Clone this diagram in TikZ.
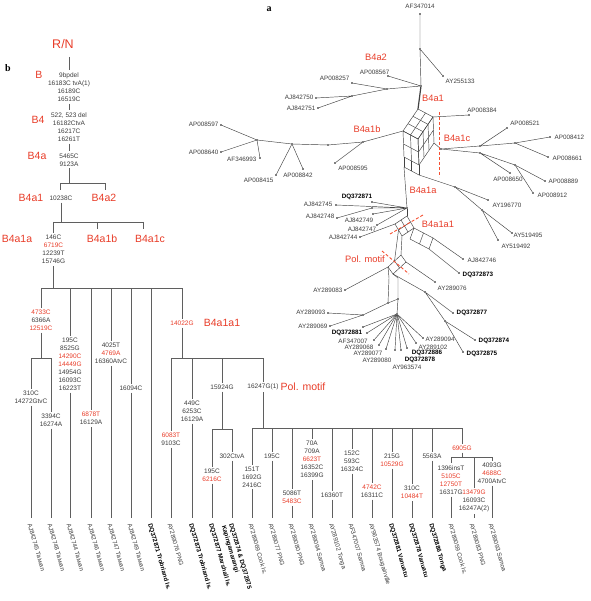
\documentclass[tikz,border=0pt]{standalone}
\usepackage{fontspec}
\setmainfont{Liberation Sans}
\newfontfamily\serifbf{Liberation Serif}
\usetikzlibrary{calc}
\definecolor{myred}{RGB}{232,60,40}
\definecolor{dashred}{RGB}{245,80,50}
\definecolor{txt}{RGB}{60,60,60}
\definecolor{ln}{RGB}{95,95,95}
\definecolor{nln}{RGB}{65,65,65}
\newcommand\redt[1]{\textcolor{myred}{#1}}
\tikzset{
 tl/.style={draw=ln, line width=0.6pt},
 mut/.style={font=\fontsize{6.5}{8}\selectfont, text=txt, align=center, inner sep=2pt},
 lab/.style={font=\fontsize{10.5}{12}\selectfont, text=myred, inner sep=0pt},
 leaf/.style={font=\fontsize{6.2}{7}\selectfont, text=txt, rotate=-74, anchor=west, inner sep=0.5pt},
 bleaf/.style={leaf, font=\fontsize{6.2}{7}\selectfont\bfseries, text=black},
 nl/.style={draw=nln, line width=0.45pt},
 nlab/.style={font=\fontsize{6.3}{7}\selectfont, text=txt, inner sep=0.5pt},
 nbold/.style={nlab, font=\fontsize{6.3}{7}\selectfont\bfseries, text=black},
 rlab/.style={font=\fontsize{9.3}{11}\selectfont, text=myred, inner sep=0pt},
 rdash/.style={draw=dashred, line width=0.9pt, dash pattern=on 3pt off 2pt},
 ndot/.style={circle, fill=black, inner sep=0pt, minimum size=1.8pt},
 panel/.style={font={\serifbf\bfseries\fontsize{10}{12}\selectfont}, inner sep=0pt},
}
\newcommand\tbr[6]{\node[mut] (#1) at (#2,#5) {#6}; \draw[tl] (#2,#3) -- (#1.north); \draw[tl] (#1.south) -- (#2,#4);}
\begin{document}
\begin{tikzpicture}[x=1pt,y=-1pt]
\useasboundingbox (0,0) rectangle (590,601);

%%%%%%%%%%%%%%%% panel b : tree %%%%%%%%%%%%%%%%
\node[panel] (pb) at (8,68) {b};
\node[lab, font=\fontsize{12.5}{14}\selectfont] (rn) at (63,44) {R/N};
\coordinate (r0) at (69,57);
\node[mut] (m0) at (69,87) {9bpdel\\16183C tvA(1)\\16189C\\16519C};
\node[lab] (lB) at (39,75) {B};
\draw[tl] (r0) -- (m0.north);
\node[mut] (m1) at (69,127) {522, 523 del\\16182CtvA\\16217C\\16261T};
\node[lab] (lB4) at (38,120) {B4};
\draw[tl] (m0.south) -- (m1.north);
\node[mut] (m2) at (69,160) {5465C\\9123A};
\node[lab] (lB4a) at (37,156) {B4a};
\draw[tl] (m1.south) -- (m2.north);
\coordinate (j1) at (69,183);
\draw[tl] (m2.south) -- (j1);
\draw[tl] (60,190) -- (60,183) -- (105,183) -- (105,190);
\node[mut] (m3) at (61,198) {10238C};
\node[lab] (lB4a1) at (31,198) {B4a1};
\node[lab] (lB4a2) at (104,198) {B4a2};
\coordinate (j2) at (61,222);
\draw[tl] (m3.south) -- (j2);
\draw[tl] (53,222) -- (143,222);
\draw[tl] (97,222) -- (97,229);
\draw[tl] (143,222) -- (143,229);
\node[lab] (lB4a1a) at (17,239) {B4a1a};
\node[lab] (lB4a1b) at (102,239) {B4a1b};
\node[lab] (lB4a1c) at (150,239) {B4a1c};
\node[mut] (m4) at (53.5,249.5) {146C\\\redt{6719C}\\12239T\\15746G};
\draw[tl] (53.5,222) -- (m4.north);
\draw[tl] (m4.south) -- (53.5,288);
\draw[tl] (41,288) -- (182,288);

\tbr{m5}{41}{288}{358}{320}{\redt{4733C}\\6366A\\\redt{12519C}}
\draw[tl] (31,358) -- (51,358);
\tbr{m6}{31}{358}{518}{397.5}{310C\\14272GtvC}
\tbr{m7}{51}{358}{518}{420}{3394C\\16274A}
\tbr{m8}{70}{288}{518}{364}{195C\\8525G\\\redt{14290C}\\\redt{14449G}\\14954G\\16093C\\16223T}
\tbr{m9}{91}{288}{518}{418.5}{\redt{6878T}\\16129A}
\tbr{m10}{111}{288}{518}{353.5}{4025T\\\redt{4769A}\\16360AtvC}
\tbr{m11}{131}{288}{518}{388}{16094C}
\draw[tl] (151,288) -- (151,518);
\tbr{m12}{182}{288}{358}{323}{\redt{14022G}}
\node[lab] (lB4a1a1) at (222,323) {B4a1a1};
\draw[tl] (171,358) -- (263,358);
\tbr{m13}{171}{358}{518}{439}{\redt{6083T}\\9103C}
\tbr{m14}{192}{358}{518}{411}{449C\\6253C\\16129A}
\tbr{m15}{222}{358}{429}{387}{15924G}
\draw[tl] (212,429) -- (232,429);
\tbr{m16}{212}{429}{518}{475}{195C\\\redt{6216C}}
\tbr{m17}{232}{429}{518}{456}{302CtvA}
\tbr{m18}{263}{358}{428}{387}{16247G(1)}
\node[lab] (lpol) at (303,387) {Pol. motif};
\draw[tl] (252,428) -- (462,428);
\tbr{m19}{252}{428}{518}{477}{151T\\1692G\\2416C}
\tbr{m20}{272}{428}{518}{456}{195C}
\tbr{m21}{292}{428}{518}{497.5}{5086T\\\redt{5483C}}
\tbr{m22}{312}{428}{518}{459.5}{70A\\709A\\\redt{6623T}\\16352C\\16399G}
\tbr{m23}{332}{428}{518}{495}{16360T}
\tbr{m24}{352}{428}{518}{461}{152C\\593C\\16324C}
\tbr{m25}{372}{428}{518}{491}{\redt{4742C}\\16311C}
\tbr{m26}{392}{428}{518}{460}{215G\\\redt{10529G}}
\tbr{m27}{412}{428}{518}{492.5}{310C\\\redt{10484T}}
\tbr{m28}{432}{428}{518}{456}{5563A}
\tbr{m29}{462}{428}{457}{448}{\redt{6905G}}
\draw[tl] (451,457) -- (492,457);
\tbr{m30}{451}{457}{518}{480}{1396insT\\\redt{5105C}\\\redt{12750T}\\16317G}
\tbr{m31}{474}{457}{518}{501}{\redt{13479G}\\16093C\\16247A(2)}
\tbr{m32}{492}{457}{518}{473}{4093G\\\redt{4688C}\\4700AtvC}

% leaf labels
\node[leaf] (t1) at (29.5,523) {AJ842745 Taiwan};
\node[leaf] (t2) at (49.5,523) {AJ842748 Taiwan};
\node[leaf] (t3) at (68.5,523) {AJ842744 Taiwan};
\node[leaf] (t4) at (89.5,523) {AJ842746 Taiwan};
\node[leaf] (t5) at (109.5,523) {AJ842747 Taiwan};
\node[leaf] (t6) at (129.5,523) {AJ842749 Taiwan};
\node[bleaf] (t7) at (149.5,523) {DQ372871 Trobriand Is.};
\node[leaf] (t8) at (169.5,523) {AY289076 PNG};
\node[bleaf] (t9) at (190.5,523) {DQ372873 Trobriand Is.};
\node[bleaf] (t10) at (210.5,523) {DQ372877 Marshall Is.};
\node[bleaf] (t11) at (230.5,523) {DQ372874 \& DQ372875};
\node[bleaf] (t11b) at (223.3,525.1) {Kapingamarangi};
\node[leaf] (t12) at (250.5,523) {AY289069 Cook Is.};
\node[leaf] (t13) at (270.5,523) {AY289077 PNG};
\node[leaf] (t14) at (290.5,523) {AY289080 PNG};
\node[leaf] (t15) at (310.5,523) {AY289094 Samoa};
\node[leaf] (t16) at (330.5,523) {AY289102 Tonga};
\node[leaf] (t17) at (350.5,523) {AF347007 Samoa};
\node[leaf] (t18) at (370.5,523) {AY963574 Bougainville};
\node[bleaf] (t19) at (390.5,523) {DQ372881 Vanuatu};
\node[bleaf] (t20) at (410.5,523) {DQ372878 Vanuatu};
\node[bleaf] (t21) at (430.5,523) {DQ372886 Tonga};
\node[leaf] (t22) at (450.5,523) {AY289059 Cook Is.};
\node[leaf] (t23) at (471.5,523) {AY289083 PNG};
\node[leaf] (t24) at (490.5,523) {AY289093 Samoa};

%%%%%%%%%%%%%%%% panel a : network %%%%%%%%%%%%%%%%
\node[panel] (pa) at (269,9) {a};
\node[ndot] (n1) at (420,14) {};
\node[nlab] (ln1) at (420,6) {AF347014};
\node[ndot] (n2) at (420,49) {};
\node[ndot] (n3) at (443,76) {};
\node[nlab, anchor=west] (ln3) at (445,81) {AY255133};
\node[ndot] (n4) at (421,86) {};
\node[ndot] (n5) at (388,76) {};
\node[nlab, anchor=east] (ln5) at (390,72) {AP008567};
\node[ndot] (n6) at (352,83) {};
\node[nlab, anchor=east] (ln6) at (350,78) {AP008257};
\node[ndot] (n7) at (387,89) {};
\node[ndot] (n8) at (352,96) {};
\node[ndot] (n9) at (316,98) {};
\node[nlab, anchor=east] (ln9) at (314,97) {AJ842750};
\node[ndot] (n10) at (318,108) {};
\node[nlab, anchor=east] (ln10) at (316,108) {AJ842751};
\draw[nl] (n1)--(n2) (n2)--(n3) (n2)--(n4) (n4)--(n5) (n4)--(n7) (n6)--(n7) (n7)--(n8) (n8)--(n9) (n8)--(n10);
\node[rlab] (la1) at (376,57) {B4a2};
\node[rlab] (la2) at (433,98) {B4a1};

% web 1
\coordinate (T) at (418,109);
\coordinate (TA) at (403,131);
\coordinate (TB) at (433,117);
\coordinate (TBC) at (434,143);
\coordinate (TAC) at (404,157);
\coordinate (SBL) at (404,167);
\coordinate (SBR) at (419,175);
\draw[nl, line width=1.2pt] (n4) -- (T);
\foreach \i in {0,1,2,3} {\draw[nl] ($(T)+({-5*\i},{7.3333*\i})$) -- ++(15,8);}
\foreach \j in {0,1,2} {\draw[nl] ($(T)+({7.5*\j},{4*\j})$) -- ++(-15,22);}
\foreach \i in {0,1,2,3} {\draw[nl] ($(TB)+({-5*\i},{7.3333*\i})$) -- ++(1,26);}
\foreach \k in {0,1,2} {\draw[nl] ($(TB)+({0.5*\k},{13*\k})$) -- ++(-15,22);}
\foreach \j in {0,1,2} {\draw[nl] ($(TA)+({7.5*\j},{4*\j})$) -- ++(1,26);}
\foreach \k in {0,1,2} {\draw[nl] ($(TA)+({0.5*\k},{13*\k})$) -- ++(15,8);}
\foreach \j in {0,1,2} {\draw[nl] ($(TAC)+({7.5*\j},{4*\j})$) -- ++(0,10);}
\draw[nl] (SBL) -- (SBR);

% B4a1b branch
\node[rlab] (la3) at (367,129) {B4a1b};
\node[ndot] (b0) at (257,140) {};
\node[ndot] (b1) at (292,144) {};
\node[ndot] (b2) at (328,145) {};
\node[ndot] (b3) at (363,142) {};
\node[ndot] (ap597) at (221,125) {};
\node[nlab, anchor=east] (lap597) at (219,124) {AP008597};
\node[ndot] (ap640) at (221,152) {};
\node[nlab, anchor=east] (lap640) at (219,152) {AP008640};
\node[ndot] (af993) at (260,158) {};
\node[nlab, anchor=east] (laf993) at (257,159) {AF346993};
\node[ndot] (ap415) at (276,175) {};
\node[nlab, anchor=east] (lap415) at (274,180) {AP008415};
\node[ndot] (ap842) at (303,169) {};
\node[nlab] (lap842) at (298,175) {AP008842};
\node[ndot] (ap595) at (335,163) {};
\node[nlab] (lap595) at (353,168) {AP008595};
\draw[nl] (ap597)--(b0) (ap640)--(b0) (af993)--(b0) (b0)--(b1) (b1)--(b2) (b2)--(b3) (b3)--(TA)
 (b1)--(ap415) (b1)--(ap842) (b3)--(ap595);

% AP008384
\node[ndot] (ap384) at (469,115) {};
\node[nlab] (lap384) at (482,110) {AP008384};
\draw[nl] (TB) -- (ap384);

% B4a1c branch
\node[rlab] (la4) at (457,138) {B4a1c};
\node[ndot] (c0) at (441,149) {};
\node[ndot] (c1) at (480,146) {};
\node[ndot] (c2) at (515,143) {};
\node[ndot] (c3) at (480,153) {};
\node[ndot] (c4) at (515,165) {};
\node[ndot] (ap412) at (550,137) {};
\node[nlab, anchor=west] (lap412) at (554,137) {AP008412};
\node[ndot] (ap521) at (507,128) {};
\node[nlab] (lap521) at (525,123) {AP008521};
\node[ndot] (ap661) at (548,157) {};
\node[nlab, anchor=west] (lap661) at (552,158) {AP008661};
\node[ndot] (ap650) at (510,173) {};
\node[nlab] (lap650) at (508,179) {AP008650};
\node[ndot] (ap889) at (545,181) {};
\node[nlab, anchor=west] (lap889) at (548,181) {AP008889};
\node[ndot] (ap912) at (533,193) {};
\node[nlab, anchor=west] (lap912) at (537,195) {AP008912};
\draw[nl] (TBC)--(c0) (c0)--(c1) (c1)--(c2) (c2)--(ap412) (c1)--(ap521) (c2)--(ap661)
 (c0)--(c3) (c3)--(ap650) (c3)--(c4) (c4)--(ap889) (c4)--(ap912);
\draw[rdash] (439,112) -- (439,177);

% AY196770 branch
\node[ndot] (d1) at (455,187) {};
\node[ndot] (d2) at (482,210) {};
\node[ndot] (ay770) at (488,200) {};
\node[nlab] (lay770) at (507,205) {AY196770};
\node[ndot] (ay495) at (512,233) {};
\node[nlab] (lay495) at (528,235) {AY519495};
\node[ndot] (ay492) at (498,240) {};
\node[nlab] (lay492) at (516,246) {AY519492};
\draw[nl] (SBR)--(d1) (d1)--(ay770) (d1)--(d2) (d2)--(ay495) (d2)--(ay492);

% B4a1a trunk and hub
\node[rlab] (la5) at (423,190) {B4a1a};
\node[ndot] (h) at (407,208) {};
\draw[nl] (SBL) -- (h);
\node[ndot] (dq871) at (372,202) {};
\node[nbold] (ldq871) at (357,197) {DQ372871};
\node[ndot] (aj745) at (336,205) {};
\node[nlab, anchor=east] (laj745) at (333,204) {AJ842745};
\node[ndot] (nA) at (372,208) {};
\node[ndot] (aj748) at (337,218) {};
\node[nlab, anchor=east] (laj748) at (335,216) {AJ842748};
\node[ndot] (aj749) at (373,214) {};
\node[nlab] (laj749) at (359,220) {AJ842749};
\node[ndot] (aj747) at (377,225) {};
\node[nlab] (laj747) at (362,229) {AJ842747};
\node[ndot] (aj744) at (360,237) {};
\node[nlab, anchor=east] (laj744) at (358,237) {AJ842744};
\draw[nl] (dq871)--(h) (aj745)--(h) (aj748)--(nA) (nA)--(h) (aj749)--(h) (aj747)--(h);

% web 2 (B4a1a1)
\coordinate (U) at (407,216);
\coordinate (UE) at (395,224);
\coordinate (UF) at (414,228);
\coordinate (UEF) at (402,236);
\draw[nl] (h) -- (U);
\foreach \i in {0,1,2} {\draw[nl] ($(U)+({-6*\i},{4*\i})$) -- ++(7,12);}
\foreach \j in {0,1,2} {\draw[nl] ($(U)+({3.5*\j},{6*\j})$) -- ++(-12,8);}
\draw[nl] (aj744) -- (UE);
\coordinate (R1) at (433,238);
\coordinate (R2) at (429,249);
\foreach \g in {0,1,2} {\draw[nl] ($(UF)+({9.5*\g},{5*\g})$) -- ++(-4,11);}
\draw[nl] (UF) -- (R1);
\draw[nl] ($(UF)+(-4,11)$) -- (R2);
\node[ndot] (aj746) at (463,259) {};
\node[nlab, anchor=west] (laj746) at (467,260) {AJ842746};
\node[ndot] (dq873) at (459,273) {};
\node[nbold, anchor=west] (ldq873) at (462,275) {DQ372873};
\draw[nl] (R1)--(aj746) (R2)--(dq873);
\node[rlab] (la6) at (438,224) {B4a1a1};
\draw[rdash] (390,234) -- (423,215);

% Pol. motif web
\coordinate (V) at (401,255);
\coordinate (VI) at (388,267);
\coordinate (VJ) at (406,262);
\coordinate (VIJ) at (393,274);
\draw[nl] (UEF) -- (V);
\draw[nl] (398.5,230) -- (394.5,261);
\foreach \k in {0,1,2} {\draw[nl] ($(V)+({-6.5*\k},{6*\k})$) -- ++(5,7);}
\draw[nl] (V) -- (VI) (VJ) -- (VIJ);
\node[rlab] (la7) at (365,259) {Pol. motif};
\draw[rdash] (382,251) -- (409,274);
\node[ndot] (na) at (388,303) {};
\node[ndot] (nb) at (398,299) {};
\draw[nl] (VI) -- (389,278) -- (na);
\draw[nl] (VIJ) -- (398,278) -- (nb);
\draw[nl] (na) -- (nb);
\node[ndot] (ay083) at (345,290) {};
\node[nlab, anchor=east] (lay083) at (343,290) {AY289083};
\draw[nl] (ay083) -- (VI);
\node[ndot] (ay076) at (435,282) {};
\node[nlab, anchor=west] (lay076) at (437,288) {AY289076};
\node[ndot] (k1) at (425,292) {};
\node[ndot] (k2) at (445,321) {};
\node[ndot] (dq877) at (453,313) {};
\node[nbold, anchor=west] (ldq877) at (456,313) {DQ372877};
\node[ndot] (dq874) at (475,340) {};
\node[nbold, anchor=west] (ldq874) at (478,341) {DQ372874};
\node[ndot] (dq875) at (463,352) {};
\node[nbold, anchor=west] (ldq875) at (466,354) {DQ372875};
\draw[nl] (VJ)--(ay076) (VIJ)--(k1) (k1)--(dq877) (k1)--(k2) (k2)--(dq874) (k2)--(dq875);

% lower hubs
\node[ndot] (hub2) at (363,315) {};
\node[ndot] (star) at (397,314) {};
\node[ndot] (ay093) at (328,313) {};
\node[nlab, anchor=east] (lay093) at (326,312) {AY289093};
\node[ndot] (ay069) at (330,326) {};
\node[nlab, anchor=east] (lay069) at (328,326) {AY289069};
\draw[nl] (na)--(hub2) (hub2)--(ay093) (hub2)--(ay069) (nb)--(star);
\node[ndot] (s1) at (363,327) {};
\node[nbold] (ls1) at (347,333) {DQ372881};
\node[ndot] (s2) at (367,333) {};
\node[nlab] (ls2) at (353,341) {AF347007};
\node[ndot] (s3) at (374,340) {};
\node[nlab] (ls3) at (359,347) {AY289068};
\node[ndot] (s4) at (379,345) {};
\node[nlab] (ls4) at (368,353) {AY289077};
\node[ndot] (s5) at (386,349) {};
\node[nlab] (ls5) at (377,360) {AY289080};
\node[ndot] (s6) at (395,350) {};
\node[nlab] (ls6) at (407,367) {AY963574};
\node[ndot] (s7) at (401,350) {};
\node[nbold] (ls7) at (420,360) {DQ372878};
\node[ndot] (s8) at (407,348) {};
\node[nbold] (ls8) at (427,353) {DQ372886};
\node[ndot] (s9) at (416,343) {};
\node[nlab] (ls9) at (433,347) {AY289102};
\node[ndot] (s10) at (423,338) {};
\node[nlab, anchor=west] (ls10) at (425,339) {AY289094};
\foreach \s in {s1,s2,s3,s4,s5,s6,s7,s8,s9,s10} {\draw[nl] (star) -- (\s);}
\end{tikzpicture}
\end{document}
